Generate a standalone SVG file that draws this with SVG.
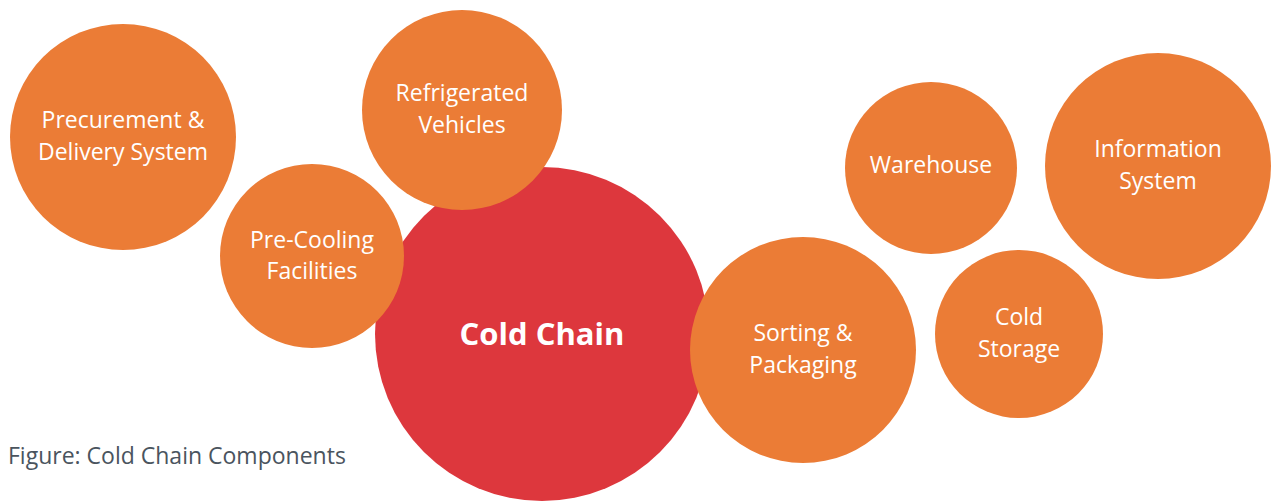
<svg xmlns="http://www.w3.org/2000/svg" width="1273" height="501" viewBox="0 0 1273 501">
<style>
.o{fill:#EB7C36}
.r{fill:#DD373D}
.t{font-family:"Open Sans","Liberation Sans",sans-serif;font-size:23px;fill:#FFFFFF;text-anchor:middle}
.b{font-family:"Open Sans","Liberation Sans",sans-serif;font-size:31px;font-weight:bold;fill:#FFFFFF;text-anchor:middle}
.c{font-family:"Open Sans","Liberation Sans",sans-serif;font-size:23px;fill:#4A545E}
</style>
<rect width="1273" height="501" fill="#FFFFFF"/>
<g id="connectors"/>
<g id="precurement"><circle class="o" cx="123" cy="137" r="113"/><text class="t" x="123" y="128">Precurement &amp;</text><text class="t" x="123" y="160">Delivery System</text></g>
<g id="cold-chain"><circle class="r" cx="542" cy="334" r="167"/><text class="b" x="542" y="345">Cold Chain</text></g>
<g id="pre-cooling"><circle class="o" cx="312" cy="256" r="92"/><text class="t" x="312" y="248">Pre-Cooling</text><text class="t" x="312" y="279">Facilities</text></g>
<g id="refrigerated"><circle class="o" cx="462" cy="110" r="100"/><text class="t" x="462" y="101">Refrigerated</text><text class="t" x="462" y="133">Vehicles</text></g>
<g id="sorting"><circle class="o" cx="803" cy="350" r="113"/><text class="t" x="803" y="341">Sorting &amp;</text><text class="t" x="803" y="373">Packaging</text></g>
<g id="warehouse"><circle class="o" cx="931" cy="168" r="86"/><text class="t" x="931" y="173">Warehouse</text></g>
<g id="information"><circle class="o" cx="1158" cy="166" r="113"/><text class="t" x="1158" y="157">Information</text><text class="t" x="1158" y="189">System</text></g>
<g id="cold-storage"><circle class="o" cx="1019" cy="334" r="84"/><text class="t" x="1019" y="325">Cold</text><text class="t" x="1019" y="357">Storage</text></g>
<text class="c" x="8" y="464">Figure: Cold Chain Components</text>
</svg>
